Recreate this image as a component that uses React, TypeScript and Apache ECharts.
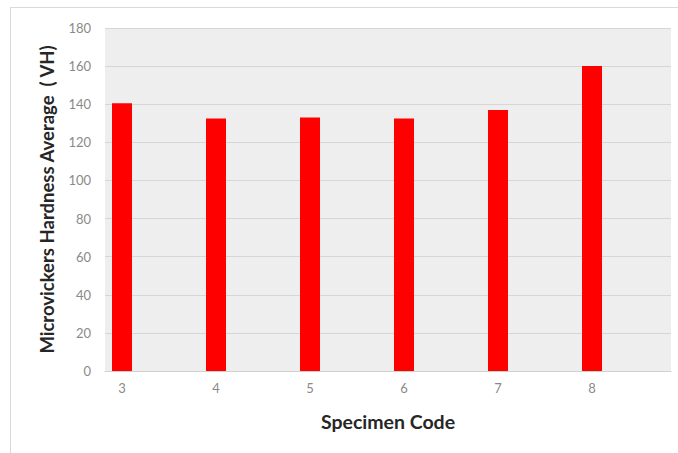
import React, { useEffect, useRef } from "react";
import * as echarts from "echarts";

const categories = ["3", "4", "5", "6", "7", "8"];
const hardness = [140.5, 132.5, 133, 132.5, 137, 160];
const yTicks = [0, 20, 40, 60, 80, 100, 120, 140, 160, 180];

export default function App() {
  const ref = useRef<HTMLDivElement>(null);
  useEffect(() => {
    if (!ref.current) return;
    const chart = echarts.init(ref.current, null, { renderer: "svg" });
    const xs = categories.map((c) => Number(c));
    chart.setOption({
      animation: false,
      backgroundColor: "#ffffff",
      textStyle: { fontFamily: "Lato" },
      grid: {
        left: 105,
        right: 7,
        top: 28,
        bottom: 82,
        show: true,
        backgroundColor: "#eeeeee",
        borderWidth: 0,
      },
      graphic: [
        {
          type: "line",
          shape: { x1: 10, y1: 7.5, x2: 678, y2: 7.5 },
          style: { stroke: "#d9d9d9", lineWidth: 1 },
          silent: true,
        },
        {
          type: "line",
          shape: { x1: 10.5, y1: 7, x2: 10.5, y2: 453 },
          style: { stroke: "#d9d9d9", lineWidth: 1 },
          silent: true,
        },
      ],
      xAxis: {
        type: "value",
        min: 3 - 17 / 94,
        max: 8 + 79 / 94,
        name: "Specimen Code",
        nameLocation: "middle",
        nameGap: 40,
        nameTextStyle: { fontSize: 19.5, fontWeight: "bold", color: "#262626", fontFamily: "Lato" },
        axisLine: { show: true, lineStyle: { color: "#d0d0d0", width: 1 } },
        axisTick: { show: false },
        splitLine: { show: false },
        axisLabel: {
          customValues: xs,
          color: "#8a8a8a",
          fontSize: 13,
          margin: 10,
          fontFamily: "Lato",
        },
      },
      yAxis: {
        type: "value",
        min: 0,
        max: 180,
        interval: 20,
        name: "Microvickers Hardness Average  ( VH)",
        nameLocation: "middle",
        nameGap: 49,
        nameTextStyle: { fontSize: 18.5, fontWeight: "bold", color: "#262626", fontFamily: "Lato" },
        axisLine: { show: false },
        axisTick: { show: false },
        splitLine: { show: true, lineStyle: { color: "#d6d6d6", width: 1 } },
        axisLabel: {
          color: "#8a8a8a",
          fontSize: 13,
          margin: 14,
          fontFamily: "Lato",
          customValues: yTicks,
        },
      },
      series: [
        {
          type: "bar",
          barWidth: 20,
          data: xs.map((x, i) => [x, hardness[i]]),
          itemStyle: { color: "#ff0000" },
        },
      ],
    });
    return () => chart.dispose();
  }, []);
  return (
    <div
      ref={ref}
      style={{ position: "fixed", left: 0, top: 0, width: 678, height: 453 }}
    />
  );
}
